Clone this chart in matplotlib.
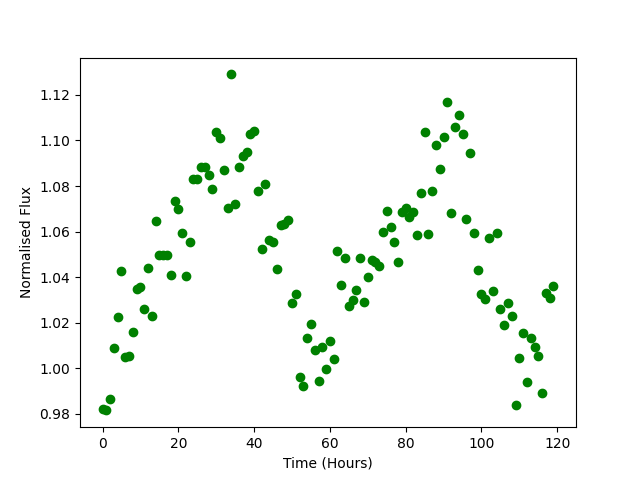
import numpy as np
import matplotlib
matplotlib.use('Agg')
import matplotlib.pyplot as plt

# normalised flux, one reading per hour
flux = [
    0.982, 0.9815, 0.9865, 1.009, 1.0225, 1.0425, 1.005, 1.0055, 1.016, 1.035,
    1.0355, 1.026, 1.044, 1.023, 1.0645, 1.0495, 1.0495, 1.0495, 1.041, 1.0735,
    1.070, 1.0595, 1.0405, 1.0555, 1.083, 1.083, 1.0885, 1.0885, 1.085, 1.0785,
    1.1035, 1.101, 1.087, 1.0705, 1.129, 1.072, 1.0885, 1.093, 1.095, 1.103,
    1.104, 1.078, 1.0525, 1.081, 1.0565, 1.0555, 1.0435, 1.063, 1.0635, 1.065,
    1.0285, 1.0325, 0.996, 0.992, 1.0135, 1.0195, 1.008, 0.9945, 1.0095, 0.9995,
    1.012, 1.004, 1.0515, 1.0365, 1.0485, 1.0275, 1.030, 1.0345, 1.0485, 1.029,
    1.040, 1.0475, 1.0465, 1.045, 1.060, 1.069, 1.062, 1.0555, 1.0465, 1.0685,
    1.0705, 1.0665, 1.0685, 1.0585, 1.077, 1.1035, 1.059, 1.078, 1.098, 1.0875,
    1.1015, 1.117, 1.068, 1.106, 1.111, 1.103, 1.0655, 1.0945, 1.0595, 1.043,
    1.0325, 1.0305, 1.057, 1.034, 1.0595, 1.026, 1.019, 1.0285, 1.023, 0.984,
    1.0045, 1.0155, 0.994, 1.0135, 1.0095, 1.0055, 0.989, 1.033, 1.031, 1.036,
]
hours = np.arange(len(flux))

fig, ax = plt.subplots(figsize=(6.4, 4.8), dpi=100)
ax.plot(hours, flux, 'go')
ax.set_xlabel('Time (Hours)')
ax.set_ylabel('Normalised Flux')

fig.savefig('out.png')
